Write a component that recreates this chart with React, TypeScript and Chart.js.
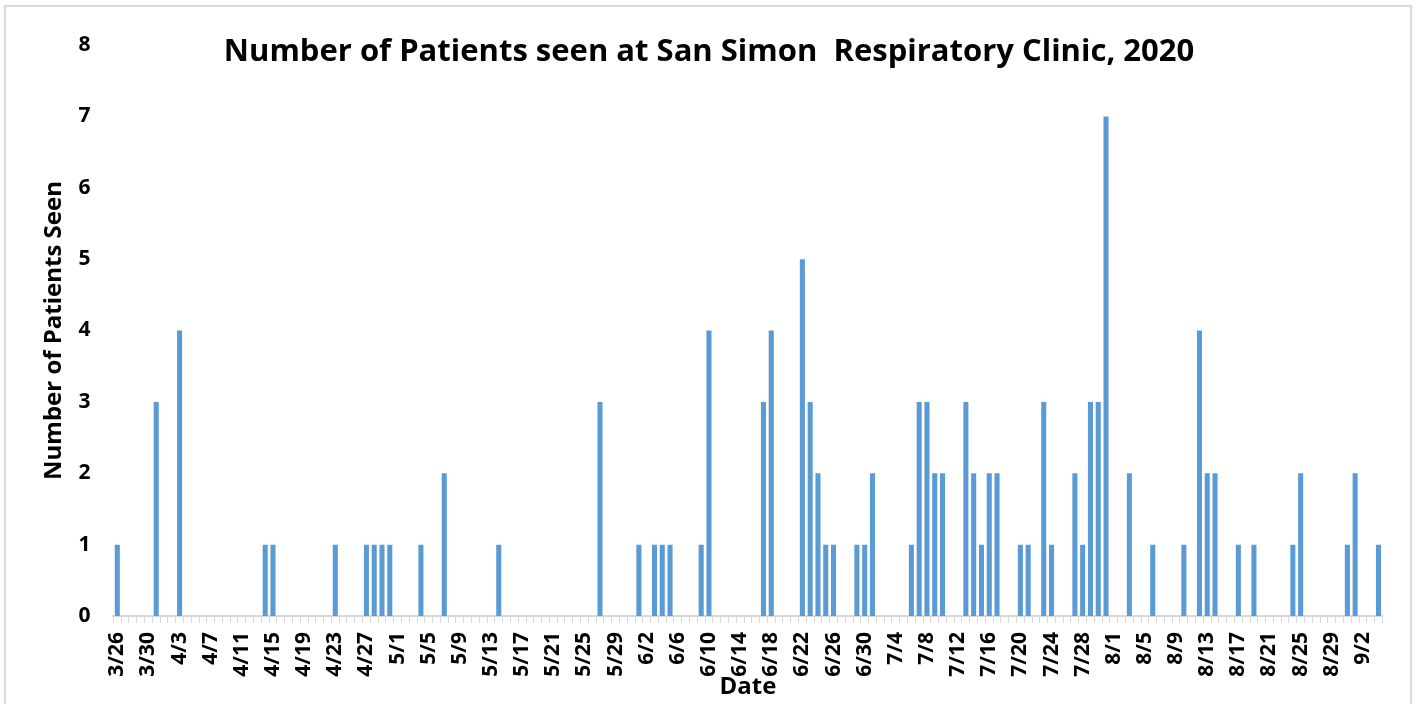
import React, { useEffect, useRef } from "react";
import { Chart, registerables } from "chart.js";

Chart.register(...registerables);

const chartTitle = "Number of Patients seen at San Simon  Respiratory Clinic, 2020";
const xAxisTitle = "Date";
const yAxisTitle = "Number of Patients Seen";

const dates = [
  "3/26", "3/27", "3/28", "3/29", "3/30", "3/31",
  "4/1", "4/2", "4/3", "4/4", "4/5", "4/6", "4/7", "4/8", "4/9", "4/10",
  "4/11", "4/12", "4/13", "4/14", "4/15", "4/16", "4/17", "4/18", "4/19", "4/20",
  "4/21", "4/22", "4/23", "4/24", "4/25", "4/26", "4/27", "4/28", "4/29", "4/30",
  "5/1", "5/2", "5/3", "5/4", "5/5", "5/6", "5/7", "5/8", "5/9", "5/10",
  "5/11", "5/12", "5/13", "5/14", "5/15", "5/16", "5/17", "5/18", "5/19", "5/20",
  "5/21", "5/22", "5/23", "5/24", "5/25", "5/26", "5/27", "5/28", "5/29", "5/30", "5/31",
  "6/1", "6/2", "6/3", "6/4", "6/5", "6/6", "6/7", "6/8", "6/9", "6/10",
  "6/11", "6/12", "6/13", "6/14", "6/15", "6/16", "6/17", "6/18", "6/19", "6/20",
  "6/21", "6/22", "6/23", "6/24", "6/25", "6/26", "6/27", "6/28", "6/29", "6/30",
  "7/1", "7/2", "7/3", "7/4", "7/5", "7/6", "7/7", "7/8", "7/9", "7/10",
  "7/11", "7/12", "7/13", "7/14", "7/15", "7/16", "7/17", "7/18", "7/19", "7/20",
  "7/21", "7/22", "7/23", "7/24", "7/25", "7/26", "7/27", "7/28", "7/29", "7/30", "7/31",
  "8/1", "8/2", "8/3", "8/4", "8/5", "8/6", "8/7", "8/8", "8/9", "8/10",
  "8/11", "8/12", "8/13", "8/14", "8/15", "8/16", "8/17", "8/18", "8/19", "8/20",
  "8/21", "8/22", "8/23", "8/24", "8/25", "8/26", "8/27", "8/28", "8/29", "8/30", "8/31",
  "9/1", "9/2", "9/3", "9/4",
];

const patientsSeen = [
  // March 26-31
  1, 0, 0, 0, 0, 3,
  // April
  0, 0, 4, 0, 0, 0, 0, 0, 0, 0,
  0, 0, 0, 1, 1, 0, 0, 0, 0, 0,
  0, 0, 1, 0, 0, 0, 1, 1, 1, 1,
  // May
  0, 0, 0, 1, 0, 0, 2, 0, 0, 0,
  0, 0, 0, 1, 0, 0, 0, 0, 0, 0,
  0, 0, 0, 0, 0, 0, 3, 0, 0, 0, 0,
  // June
  1, 0, 1, 1, 1, 0, 0, 0, 1, 4,
  0, 0, 0, 0, 0, 0, 3, 4, 0, 0,
  0, 5, 3, 2, 1, 1, 0, 0, 1, 1,
  // July
  2, 0, 0, 0, 0, 1, 3, 3, 2, 2,
  0, 0, 3, 2, 1, 2, 2, 0, 0, 1,
  1, 0, 3, 1, 0, 0, 2, 1, 3, 3, 7,
  // August
  0, 0, 2, 0, 0, 1, 0, 0, 0, 1,
  0, 4, 2, 2, 0, 0, 1, 0, 1, 0,
  0, 0, 0, 1, 2, 0, 0, 0, 0, 0, 1,
  // September 1-4
  2, 0, 0, 1,
];

const tickLabels = [
  "3/26", "3/30", "4/3", "4/7", "4/11", "4/15", "4/19", "4/23", "4/27", "5/1",
  "5/5", "5/9", "5/13", "5/17", "5/21", "5/25", "5/29", "6/2", "6/6", "6/10",
  "6/14", "6/18", "6/22", "6/26", "6/30", "7/4", "7/8", "7/12", "7/16", "7/20",
  "7/24", "7/28", "8/1", "8/5", "8/9", "8/13", "8/17", "8/21", "8/25", "8/29", "9/2",
];

const yTicks = [0, 1, 2, 3, 4, 5, 6, 7, 8];

const FONT = "'Open Sans'";

export default function App() {
  const canvasRef = useRef<HTMLCanvasElement | null>(null);

  useEffect(() => {
    const canvas = canvasRef.current;
    if (!canvas) return;

    const titlePlugin = {
      id: "customTitle",
      afterDraw(chart: any) {
        const ctx = chart.ctx as CanvasRenderingContext2D;
        ctx.save();
        ctx.font = `bold 31px ${FONT}`;
        ctx.fillStyle = "#000000";
        ctx.textAlign = "center";
        ctx.textBaseline = "alphabetic";
        ctx.fillText(chartTitle, 709, 61);
        ctx.restore();
      },
    };

    const chart = new Chart(canvas, {
      type: "bar",
      data: {
        labels: dates,
        datasets: [
          {
            label: yAxisTitle,
            data: patientsSeen,
            backgroundColor: "#5B9BD5",
            borderWidth: 0,
            barPercentage: 1,
            categoryPercentage: 0.65,
          },
        ],
      },
      options: {
        animation: false,
        responsive: false,
        devicePixelRatio: 1,
        layout: { padding: { left: 0, right: 34.6, top: 45, bottom: 0 } },
        plugins: {
          legend: { display: false },
          title: { display: false },
          tooltip: { enabled: false },
        },
        scales: {
          x: {
            type: "category",
            offset: true,
            grid: {
              display: true,
              offset: true,
              drawOnChartArea: false,
              drawTicks: true,
              tickLength: 7,
              color: "#D9D9D9",
              lineWidth: 1,
            },
            border: { display: true, color: "#D9D9D9", width: 2 },
            ticks: {
              autoSkip: false,
              maxRotation: 90,
              minRotation: 90,
              padding: 9,
              color: "#000000",
              font: { family: FONT, weight: "bold", size: 21 },
              callback: function (this: any, value: any) {
                const l = this.getLabelForValue(value);
                return tickLabels.includes(l) ? l : "";
              },
            },
            title: {
              display: true,
              text: xAxisTitle,
              color: "#000000",
              font: { family: FONT, weight: "bold", size: 24 },
              padding: { top: 0, bottom: 2 },
            },
            afterFit: (s: any) => {
              s.height = 88;
            },
          },
          y: {
            min: 0,
            max: 8,
            afterBuildTicks: (s: any) => {
              s.ticks = yTicks.map((v) => ({ value: v }));
            },
            ticks: {
              padding: 23,
              color: "#000000",
              font: { family: FONT, weight: "bold", size: 21 },
            },
            grid: { display: false, drawTicks: false },
            border: { display: false },
            title: {
              display: true,
              text: yAxisTitle,
              color: "#000000",
              font: { family: FONT, weight: "bold", size: 24 },
              padding: { top: 40, bottom: 0 },
            },
            afterFit: (s: any) => {
              s.width = 113.4;
            },
          },
        },
      },
      plugins: [titlePlugin],
    });

    return () => {
      chart.destroy();
    };
  }, []);

  return (
    <div
      style={{
        position: "absolute",
        left: 0,
        top: 0,
        width: 1417,
        height: 704,
        overflow: "hidden",
        background: "#ffffff",
      }}
    >
      <canvas
        ref={canvasRef}
        width={1417}
        height={704}
        style={{ position: "absolute", left: 0, top: 0, width: 1417, height: 704 }}
      />
      <div
        style={{
          position: "absolute",
          left: 4,
          top: 5,
          width: 1408,
          height: 720,
          border: "2px solid #D9D9D9",
          boxSizing: "border-box",
          pointerEvents: "none",
        }}
      />
    </div>
  );
}
